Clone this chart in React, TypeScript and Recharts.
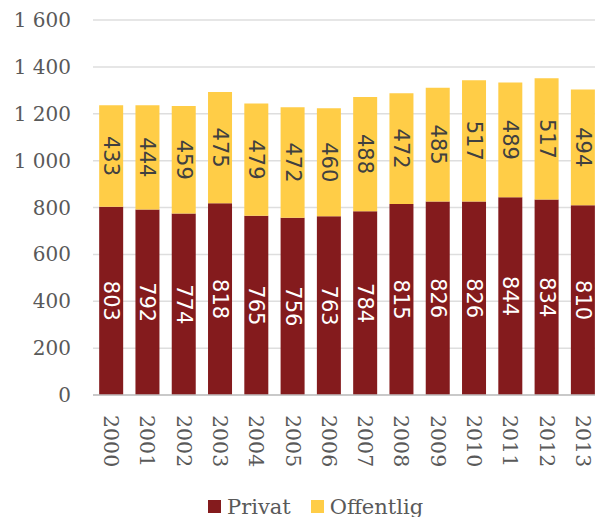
import React from 'react';
import { BarChart, Bar, XAxis, YAxis, CartesianGrid, LabelList } from 'recharts';

const years = ['2000', '2001', '2002', '2003', '2004', '2005', '2006', '2007', '2008', '2009', '2010', '2011', '2012', '2013'];
const privat = [803, 792, 774, 818, 765, 756, 763, 784, 815, 826, 826, 844, 834, 810];
const offentlig = [433, 444, 459, 475, 479, 472, 460, 488, 472, 485, 517, 489, 517, 494];
const yTicks = [0, 200, 400, 600, 800, 1000, 1200, 1400, 1600];

const RED = '#841b1d';
const YELLOW = '#ffcd47';
const TEXT = '#595959';
const SERIF = '"DejaVu Serif", "Liberation Serif", serif';

const data = years.map((y, i) => ({ year: y, privat: privat[i], offentlig: offentlig[i] }));

// 1600 -> "1 600"
const fmt = (v: number) => String(v).replace(/\B(?=(\d{3})+(?!\d))/g, ' ');

const makeLabel = (color: string) => (props: any) => {
  const { x, y, width, height, value } = props;
  const cx = x + width / 2;
  const cy = y + height / 2;
  return (
    <text
      x={cx}
      y={cy}
      transform={`rotate(90, ${cx}, ${cy})`}
      textAnchor="middle"
      dominantBaseline="central"
      fill={color}
      fontFamily='"DejaVu Sans", sans-serif'
      fontSize={21}
    >
      {value}
    </text>
  );
};

const YearTick = ({ x, y, payload }: any) => (
  <g transform={`translate(${x},${y + 12})`}>
    <text transform="rotate(90)" textAnchor="start" dominantBaseline="central" fill={TEXT} fontFamily={SERIF} fontSize={20.5}>
      {payload.value}
    </text>
  </g>
);

const LegendItem = ({ color, label }: { color: string; label: string }) => (
  <span style={{ display: 'inline-flex', alignItems: 'center', marginRight: 20 }}>
    <span style={{ width: 13, height: 13, background: color, display: 'inline-block', marginRight: 6 }} />
    <span>{label}</span>
  </span>
);

export default function App() {
  return (
    <div style={{ position: 'absolute', left: 0, top: 0, width: 595, height: 517, overflow: 'hidden', background: '#fff' }}>
      <BarChart width={605} height={517} data={data} margin={{ top: 20, right: 4, left: 0, bottom: 42 }} barCategoryGap="17%">
        <CartesianGrid vertical={false} stroke="#dedede" strokeWidth={1.5} />
        <XAxis
          dataKey="year"
          height={80}
          axisLine={{ stroke: '#bfbfbf', strokeWidth: 1.5 }}
          tickLine={false}
          interval={0}
          tick={<YearTick />}
        />
        <YAxis
          width={93}
          domain={[0, 1600]}
          ticks={yTicks}
          axisLine={false}
          tickLine={false}
          tickMargin={16}
          tickFormatter={fmt}
          tick={{ fill: TEXT, fontFamily: SERIF, fontSize: 20 }}
        />
        <Bar dataKey="privat" stackId="a" fill={RED} isAnimationActive={false}>
          <LabelList dataKey="privat" content={makeLabel('#ffffff')} />
        </Bar>
        <Bar dataKey="offentlig" stackId="a" fill={YELLOW} isAnimationActive={false}>
          <LabelList dataKey="offentlig" content={makeLabel('#404040')} />
        </Bar>
      </BarChart>
      <div
        style={{
          position: 'absolute',
          left: 208,
          top: 494,
          fontFamily: SERIF,
          fontSize: 21,
          color: TEXT,
          whiteSpace: 'nowrap',
          lineHeight: '24px',
        }}
      >
        <LegendItem color={RED} label="Privat" />
        <LegendItem color={YELLOW} label="Offentlig" />
      </div>
    </div>
  );
}
